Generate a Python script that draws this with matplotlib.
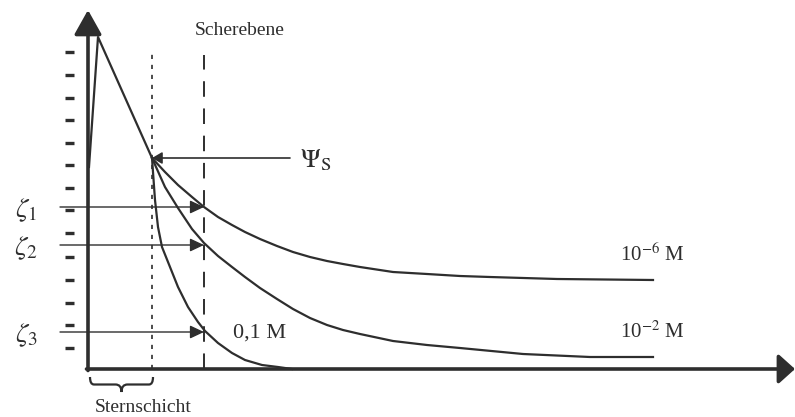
import numpy as np
import matplotlib
matplotlib.use("Agg")
from matplotlib import pyplot as plt
from matplotlib.path import Path
from matplotlib.patches import PathPatch

plt.rcParams["font.family"] = ["Liberation Serif", "DejaVu Serif"]
plt.rcParams["mathtext.fontset"] = "stix"

INK = "#2e2e2e"

# distance from the surface (x) and potential (y)
inner_x = [1, 10, 64]
inner_y = [202, 332, 211]

conc_6_x = [64, 77, 90, 104, 116, 130, 144, 157, 172, 189, 205, 222, 239,
            255, 272, 305, 339, 372, 402, 469, 565]
conc_6_y = [211, 197, 184, 172, 162, 152, 144, 137, 130, 123, 117, 112, 108,
            105, 102, 97, 95, 93, 92, 90, 89]

conc_2_x = [64, 77, 90, 104, 116, 130, 144, 157, 172, 189, 205, 222, 239,
            255, 272, 305, 339, 372, 435, 502, 565]
conc_2_y = [211, 182, 161, 140, 126, 113, 102, 92, 81, 70, 60, 51, 44,
            39, 35, 28, 24, 21, 15, 12, 12]

conc_01_x = [64, 67, 70, 74, 80, 90, 100, 110, 117, 130, 144, 157, 174, 190, 204]
conc_01_y = [211, 169, 142, 122, 107, 82, 62, 47, 38, 26, 16, 9, 4, 2, 0]

curve_labels = ["10$^{-6}$ M", "10$^{-2}$ M", "0,1 M"]
label_pos = [(532, 114), (532, 37), (145, 36)]
label_size = [15, 15, 16]

psi_s = 211
stern_x = 64
shear_x = 116
zeta_values = [162, 124, 37]
zeta_labels = [r"$\zeta_1$", r"$\zeta_2$", r"$\zeta_3$"]
tick_levels = [317, 294, 271, 249, 226, 204, 181, 159, 136, 112, 89, 66, 44, 21]


def arrow(ax, start, end, lw, scale, head_len, head_w):
    ax.annotate(
        "",
        xy=end,
        xytext=start,
        arrowprops=dict(
            arrowstyle=f"-|>,head_length={head_len},head_width={head_w}",
            lw=lw,
            color=INK,
            shrinkA=0,
            shrinkB=0,
            mutation_scale=scale,
        ),
    )


def draw_brace(ax, x0, x1, y_top, y_bot):
    xm = (x0 + x1) / 2
    ym = (y_top + y_bot) / 2
    verts = [
        (x0, y_top),
        (x0, ym), (x0 + 4, ym),
        (xm - 6, ym),
        (xm, ym), (xm, y_bot),
        (xm, ym), (xm + 6, ym),
        (x1 - 4, ym),
        (x1, ym), (x1, y_top),
    ]
    codes = [
        Path.MOVETO,
        Path.CURVE3, Path.CURVE3,
        Path.LINETO,
        Path.CURVE3, Path.CURVE3,
        Path.CURVE3, Path.CURVE3,
        Path.LINETO,
        Path.CURVE3, Path.CURVE3,
    ]
    ax.add_patch(PathPatch(Path(verts, codes), fill=False, lw=1.6, color=INK))


fig = plt.figure(figsize=(7.95, 4.17), dpi=100)
ax = fig.add_axes([0, 0, 1, 1])
ax.set_xlim(-88, 707)
ax.set_ylim(-48, 369)
ax.axis("off")

# axes with arrows
arrow(ax, (0, -1.5), (0, 359), 2.6, 20, 0.75, 0.42)
arrow(ax, (-1.5, 0), (707, 0), 2.6, 20, 0.5, 0.45)

# scale marks on the potential axis
ax.hlines(tick_levels, -23, -14, color=INK, lw=2.4)

# Stern layer boundary and shear plane
ax.vlines(stern_x, 0, 317, color=INK, lw=1.2, linestyles=(0, (2.5, 3.5)))
ax.vlines(shear_x, 0, 314, color=INK, lw=1.4, linestyles=(0, (8, 6)))

# potential curves
ax.plot(inner_x, inner_y, color=INK, lw=1.6)
for xs, ys in [(conc_6_x, conc_6_y), (conc_2_x, conc_2_y), (conc_01_x, conc_01_y)]:
    ax.plot(xs, ys, color=INK, lw=1.6, solid_joinstyle="round")

# surface potential marker
arrow(ax, (202, psi_s), (stern_x, psi_s), 1.2, 10, 0.6, 0.35)
ax.text(212, psi_s - 2, r"$\Psi_{\mathrm{S}}$", fontsize=19, color=INK,
        ha="left", va="center")

# zeta potentials at the shear plane
for z, lab in zip(zeta_values, zeta_labels):
    arrow(ax, (-28, z), (shear_x, z), 1.0, 10, 0.85, 0.4)
    ax.text(-62, z - 3, lab, fontsize=20, color=INK, ha="center", va="center")

for lab, (lx, ly), fs in zip(curve_labels, label_pos, label_size):
    ax.text(lx, ly, lab, fontsize=fs, color=INK, ha="left", va="center")

ax.text(152, 339, "Scherebene", fontsize=14, color=INK, ha="center", va="center")

draw_brace(ax, 2, 65, -8, -23)
ax.text(55, -39, "Sternschicht", fontsize=14, color=INK, ha="center", va="center")

fig.savefig("out.png", dpi=100)
